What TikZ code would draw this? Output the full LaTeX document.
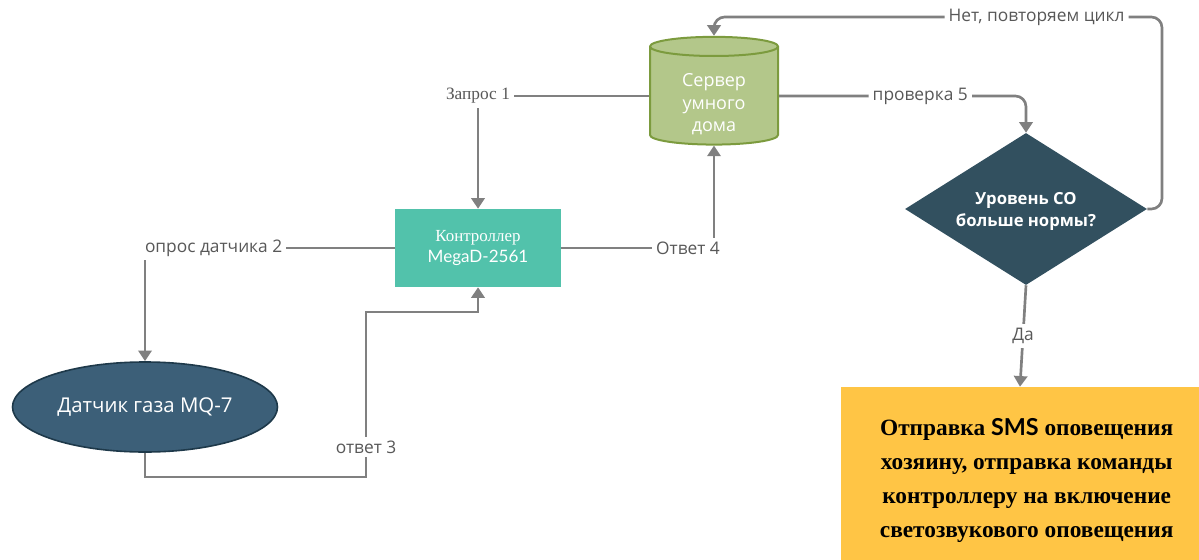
\documentclass[tikz,border=0pt]{standalone}
\usepackage{fontspec}
\setmainfont{Liberation Serif}
\setsansfont{Open Sans}
\newfontfamily\latofont{Lato}
\usetikzlibrary{shapes.geometric,arrows.meta}
\definecolor{lineclr}{HTML}{808080}
\definecolor{lblclr}{HTML}{585858}
\definecolor{ctrlclr}{HTML}{52C2AB}
\definecolor{srvfill}{HTML}{B3C78A}
\definecolor{srvdraw}{HTML}{7C9B3E}
\definecolor{decclr}{HTML}{32505F}
\definecolor{sensfill}{HTML}{3C5F78}
\definecolor{sensdraw}{HTML}{1E394A}
\definecolor{actclr}{HTML}{FFC545}
\begin{document}
\begin{tikzpicture}[x=0.75pt,y=-0.75pt,
  line/.style={draw=lineclr,line width=2pt,-{Triangle[width=10pt,length=8pt]}},
  lbl/.style={fill=white,text=lblclr,font=\sffamily\fontsize{13}{15}\selectfont,inner sep=3pt},
  ctrlbox/.style={rectangle,fill=ctrlclr,text=white,minimum width=124.5pt,minimum height=58.5pt,align=center},
  srv/.style={cylinder,shape border rotate=90,aspect=0.3,fill=srvfill,draw=srvdraw,line width=1.5pt,
    text=white,minimum width=96pt,minimum height=75.75pt,align=center,inner sep=0pt,
    font=\sffamily\fontsize{13.5}{17}\selectfont},
  decision/.style={diamond,aspect=1.59,fill=decclr,text=white,minimum width=181.5pt,minimum height=114pt,
    inner sep=0pt,align=center,font=\sffamily\bfseries\fontsize{12.5}{16.5}\selectfont},
  sensor/.style={ellipse,fill=sensfill,draw=sensdraw,line width=1.2pt,text=white,minimum width=198.75pt,
    minimum height=67.5pt,font=\sffamily\fontsize{15.3}{17}\selectfont},
  action/.style={rectangle,fill=actclr,minimum width=268.5pt,minimum height=129.75pt,align=center,
    font=\bfseries\fontsize{17.5}{25.5}\selectfont}]
  \useasboundingbox (0,0) rectangle (1199,560);

  % nodes
  \node[ctrlbox] (ctrl) at (478,248) {{\fontsize{12.7}{14}\selectfont Контроллер}\\[4pt]
    {\latofont\fontsize{12.8}{15}\selectfont MegaD-2561}};
  \node[srv] (server) at (714,96) {\rule{0pt}{22pt}Сервер\\умного\\дома};
  \node[decision] (dec) at (1026,209) {\rule{0pt}{13pt}Уровень CO\\больше нормы?};
  \node[sensor] (sensor) at (145,407) {Датчик газа MQ-7};
  \node[action] (act) at (1020,473.5) {\rule{0pt}{24pt}\hspace*{10pt}Отправка {\latofont\bfseries SMS} оповещения\\
    \hspace*{10pt}хозяину, отправка команды\\\hspace*{10pt}контроллеру на включение\\
    \hspace*{10pt}светозвукового оповещения};

  % connectors
  \draw[line] (server.west) -| (ctrl.north)
    node[lbl,pos=0.5,font=\fontsize{13}{15}\selectfont]{Запрос 1};
  \draw[line] (ctrl.west) -| (sensor.north)
    node[lbl,pos=0.5,anchor=west,xshift=-4pt]{опрос датчика 2};
  \draw[line] (sensor.south) -- (145,477) -- (366,477) -- (366,312) -| (ctrl.south);
  \node[lbl] at (366,447) {ответ 3};
  \draw[line] (ctrl.east) -| (server.south)
    node[lbl,pos=0.5,xshift=-19.5pt]{Ответ 4};
  \draw[line,rounded corners=8pt] (server.east) -| (dec.north)
    node[lbl,pos=0.286]{проверка 5};
  \draw[line,rounded corners=8pt] (dec.east) -| (1162,17) -| (server.north)
    node[lbl,pos=0.14]{Нет, повторяем цикл};
  \draw[line] (dec.south) -- (act.north) node[lbl,midway]{Да};
\end{tikzpicture}
\end{document}
